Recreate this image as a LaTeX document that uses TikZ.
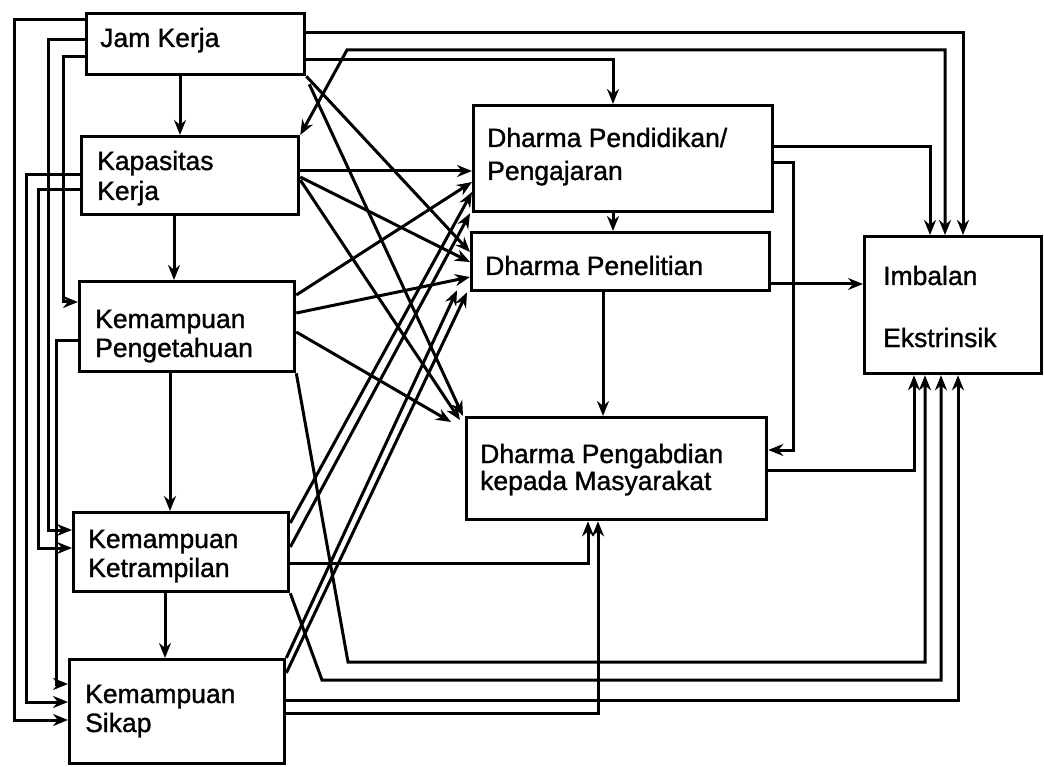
\documentclass[tikz,border=0pt]{standalone}
\usepackage{fontspec}
\setmainfont{Liberation Sans}
\newfontfamily\labelfont[BoldFont={Liberation Sans}, BoldFeatures={FakeBold=1.2}]{Liberation Sans}
\usetikzlibrary{arrows.meta}
\begin{document}
\begin{tikzpicture}[x=1pt,y=-1pt,
  box/.style={draw, line width=3.3pt, rectangle, anchor=north west, inner sep=0pt},
  lbl/.style={anchor=base west, inner sep=0pt, font=\labelfont\bfseries\fontsize{26.5pt}{29pt}\selectfont},
  link/.style={line width=3pt, -{Stealth[length=15pt,width=12pt]}},
  twoway/.style={line width=3pt, {Stealth[length=15pt,width=12pt]}-{Stealth[length=15pt,width=12pt]}}]
\useasboundingbox (0,0) rectangle (1044,767);

% ---- variable boxes ----
\node[box, minimum width=218pt, minimum height=61pt]  (jk) at (85,12)  {};
\node[box, minimum width=217pt, minimum height=78pt]  (kk) at (80,135) {};
\node[box, minimum width=215pt, minimum height=90pt]  (kp) at (78,280) {};
\node[box, minimum width=215pt, minimum height=79pt]  (kt) at (72,511) {};
\node[box, minimum width=215pt, minimum height=104pt] (ks) at (68,658) {};
\node[box, minimum width=299pt, minimum height=106pt] (y1) at (472,104) {};
\node[box, minimum width=298pt, minimum height=58pt]  (y2) at (470,231) {};
\node[box, minimum width=300pt, minimum height=102pt] (y3) at (465,416) {};
\node[box, minimum width=177pt, minimum height=137pt] (z)  at (863,235) {};

% ---- box texts ----
\node[lbl] (jk1) at (100,47)  {Jam Kerja};
\node[lbl] (kk1) at (97,170)  {Kapasitas};
\node[lbl] (kk2) at (97,200)  {Kerja};
\node[lbl] (kp1) at (95,328)  {Kemampuan};
\node[lbl] (kp2) at (95,357)  {Pengetahuan};
\node[lbl] (kt1) at (88,548)  {Kemampuan};
\node[lbl] (kt2) at (88,577)  {Ketrampilan};
\node[lbl] (ks1) at (85,703)  {Kemampuan};
\node[lbl] (ks2) at (85,732)  {Sikap};
\node[lbl] (y11) at (487,147) {Dharma Pendidikan/};
\node[lbl] (y12) at (487,180) {Pengajaran};
\node[lbl] (y21) at (485,275) {Dharma Penelitian};
\node[lbl] (y31) at (480,463) {Dharma Pengabdian};
\node[lbl] (y32) at (480,490) {kepada Masyarakat};
\node[lbl] (z1)  at (883,285) {Imbalan};
\node[lbl] (z2)  at (883,347) {Ekstrinsik};

% ---- chain down the left column ----
\draw[link] ([xshift=95pt]jk.south west) -- ([xshift=100pt]kk.north west);
\draw[link] ([xshift=94pt]kk.south west) -- ([xshift=96pt]kp.north west);
\draw[link] ([xshift=92pt]kp.south west) -- ([xshift=98pt]kt.north west);
\draw[link] ([xshift=93pt]kt.south west) -- ([xshift=97pt]ks.north west);

% ---- routes along the left margin ----
\draw[link] ([yshift=-8pt]jk.north west)  -- ++(-71,0) |- ([yshift=-62pt]ks.north west);
\draw[link] ([yshift=-40pt]kk.north west) -- ++(-54,0) |- ([yshift=-44pt]ks.north west);
\draw[link] ([yshift=-55pt]kk.north west) -- ++(-42,0) |- ([yshift=-37pt]kt.north west);
\draw[link] ([yshift=-28pt]jk.north west) -- ++(-37,0) |- ([yshift=-19pt]kt.north west);
\draw[link] ([yshift=-45pt]jk.north west) -- ++(-22,0) |- ([yshift=-22pt]kp.north west);
\draw[link] ([yshift=-60pt]kp.north west) -- ++(-22,0) |- ([yshift=-26pt]ks.north west);

% ---- routes along the top ----
\draw[link]   ([yshift=-21pt]jk.north east) -| ([xshift=100pt]z.north west);
\draw[twoway] (kk.north east) -- (347,50) -| ([xshift=82pt]z.north west);
\draw[link]   ([yshift=-48pt]jk.north east) -| ([xshift=141pt]y1.north west);

% ---- Jam Kerja to the dharma boxes ----
\draw[link] (jk.south east) -- ([yshift=-21pt]y2.north west);
\draw[link] ([xshift=3pt,yshift=-8pt]jk.south east) -- ([xshift=-2pt]y3.north west);

% ---- Kapasitas Kerja to the dharma boxes ----
\draw[link] ([yshift=-36pt]kk.north east) -- ([yshift=-67pt]y1.north west);
\draw[link] ([yshift=-42pt]kk.north east) -- ([yshift=-31pt]y2.north west);
\draw[link] ([yshift=-45pt]kk.north east) -- ([xshift=-5pt,yshift=-4pt]y3.north west);

% ---- Kemampuan Pengetahuan ----
\draw[link] ([yshift=-15pt]kp.north east) -- ([yshift=-78pt]y1.north west);
\draw[link] ([yshift=-33pt]kp.north east) -- ([yshift=-46pt]y2.north west);
\draw[link] ([yshift=-52pt]kp.north east) -- ([xshift=-14pt,yshift=-6pt]y3.north west);
\draw[link] (kp.south east) -- (348,662) -| ([xshift=62pt]z.south west);

% ---- Kemampuan Ketrampilan ----
\draw[link] ([yshift=-12pt]kt.north east) -- ([yshift=-88pt]y1.north west);
\draw[link] ([yshift=-36pt]kt.north east) -- ([xshift=-2pt]y1.south west);
\draw[link] ([yshift=-52pt]kt.north east) -| ([xshift=123pt]y3.south west);
\draw[link] (kt.south east) -- (322,680) -| ([xshift=78pt]z.south west);

% ---- Kemampuan Sikap ----
\draw[link] (ks.north east) -- ([xshift=-13pt,yshift=2pt]y2.south west);
\draw[link] ([yshift=-15pt]ks.north east) -- ([xshift=-3pt]y2.south west);
\draw[link] ([yshift=-42pt]ks.north east) -| ([xshift=95pt]z.south west);
\draw[link] ([yshift=-55pt]ks.north east) -| ([xshift=133pt]y3.south west);

% ---- among the dharma boxes and to Imbalan Ekstrinsik ----
\draw[link] ([xshift=141pt]y1.south west) -- ([xshift=143pt]y2.north west);
\draw[link] ([xshift=133pt]y2.south west) -- ([xshift=138pt]y3.north west);
\draw[link] ([yshift=-43pt]y1.north east) -| ([xshift=67pt]z.north west);
\draw[link] ([yshift=-59pt]y1.north east) -- ++(19,0) |- ([yshift=-34pt]y3.north east);
\draw[link] ([yshift=-53pt]y2.north east) -- ([yshift=-49pt]z.north west);
\draw[link] ([yshift=-54pt]y3.north east) -| ([xshift=51pt]z.south west);
\end{tikzpicture}
\end{document}
